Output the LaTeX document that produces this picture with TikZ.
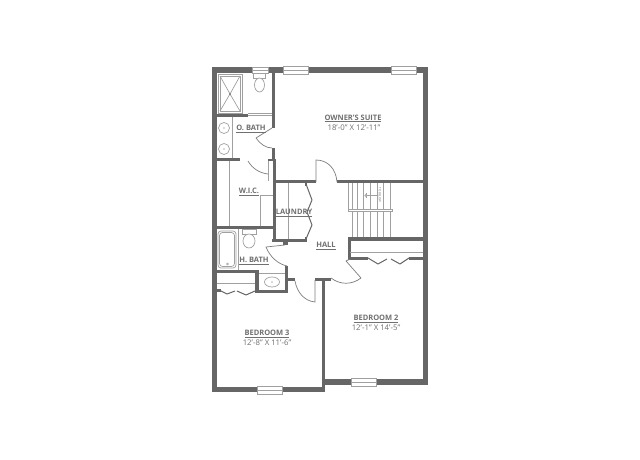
\documentclass[tikz,border=0pt]{standalone}
\usepackage{fontspec}
\setmainfont{Open Sans}
\definecolor{wallc}{HTML}{666666}
\definecolor{fixc}{HTML}{A0A0A0}
\definecolor{txtc}{HTML}{707070}
\tikzset{
  wall/.style={fill=wallc,draw=none},
  thin line/.style={draw=fixc,line width=0.7pt},
  doorline/.style={draw=wallc!85,line width=0.7pt},
  zig/.style={draw=wallc,line width=1pt,line join=round},
  window/.style={draw=fixc,fill=white,line width=0.6pt},
  roomname/.style={text=txtc,font=\fontsize{7.5}{8}\selectfont\bfseries,inner sep=0pt},
  roomdim/.style={text=txtc,font=\fontsize{7.8}{8}\selectfont,inner sep=0pt},
}
\begin{document}
\begin{tikzpicture}[x=1pt,y=-1pt]
\useasboundingbox (0,0) rectangle (640,460);
\fill[white] (0,0) rectangle (640,460);
% outer walls
\fill[wall] (212,67) rectangle (428,73);
\fill[wall] (212,67) rectangle (217,392);
\fill[wall] (423,67) rectangle (428,385);
\fill[wall] (322,379) rectangle (428,385);
\fill[wall] (212,387) rectangle (325,392);
\fill[wall] (322,280) rectangle (325,392);
% inner walls
\fill[wall] (272,73) rectangle (275,128);
\fill[wall] (272,148) rectangle (275,160);
\fill[wall] (217,114) rectangle (248,117);
\fill[wall] (217,158) rectangle (240,161);
\fill[wall] (268,159) rectangle (276,161);
\fill[wall] (273,160) rectangle (276,242);
\fill[wall] (273,180) rectangle (316,183);
\fill[wall] (337,180) rectangle (423,183);
\fill[wall] (272,239) rectangle (307,242);
\fill[wall] (283,242) rectangle (288,245);
\fill[wall] (305,237) rectangle (307,241);
\fill[wall] (305,183) rectangle (307,186);
\fill[wall] (217,226) rectangle (273,229);
\fill[wall] (217,270) rectangle (259,273);
\fill[wall] (255,270) rectangle (259,293);
\fill[wall] (255,290) rectangle (288,293);
\fill[wall] (285,266) rectangle (287.5,293);
\fill[wall] (287,278) rectangle (295,281);
\fill[wall] (315,278) rectangle (331,281);
\fill[wall] (348,237) rectangle (423,240.5);
\fill[wall] (348,237) rectangle (350.5,260);
\fill[wall] (348,257) rectangle (368,260);
\fill[wall] (409,257) rectangle (423,260);
\fill[wall] (217,289) rectangle (221,292);
% thin lines
\draw[thin line] (248,115.5) -- (272,115.5);
\draw[thin line] (248,113) -- (272,113);
\draw[thin line] (268.5,161) -- (268.5,181);
\draw[thin line] (229,161) -- (229,226);
\draw[thin line] (260,226) -- (260,195) -- (273,195);
\draw[thin line] (288,183) -- (288,239);
\draw[thin line] (238,229) -- (238,270);
\draw[thin line] (232,117) -- (232,158);
\draw[thin line] (217,283) -- (255,283);
\draw[thin line] (350,252) -- (423,252);
\draw[thin line] (259,273) -- (285,273);
% shower
\draw[thin line] (218,74) rectangle (242,113);
\draw[thin line] (220,76) rectangle (240,111);
\draw[thin line] (220,76) -- (230,94) -- (240,76);
\draw[thin line] (220,111) -- (230,94) -- (240,111);
\fill[wallc] (230,94) circle (0.9);
% owner's toilet
\draw[thin line] (253,73) rectangle (265,78);
\draw[thin line,fill=white] (259.5,85) ellipse (5 and 7);
% vanity sinks
\draw[thin line] (224,128) circle (5.5);
\fill[wallc] (224,128) circle (0.6);
\draw[thin line] (224,149) circle (5.5);
\fill[wallc] (224,149) circle (0.6);
% doors
\draw[doorline,line join=round] (272,128) -- (256,138) .. controls (260,144) and (266,148) .. (272,148);
\draw[doorline] (248,161) .. controls (252,168) and (259,173) .. (268,174);
\draw[doorline] (316,182) -- (316,160) .. controls (328,160) and (336,169) .. (337,182);
\draw[doorline,line join=round] (285,245) -- (266,247) .. controls (270,257) and (278,264) .. (287,266);
\draw[doorline] (295,281) .. controls (297,292) and (304,301) .. (315,302) -- (315,280);
\draw[doorline,line join=round] (350,259) -- (346,261) -- (361,278) .. controls (352,285) and (340,285) .. (331,278);
% h bath fixtures
\draw[thin line,rounded corners=3pt] (218,231) rectangle (236,268);
\draw[thin line,rounded corners=3pt] (219.5,232.5) rectangle (234.5,266.5);
\draw[thin line] (227.5,264) circle (1);
\draw[thin line] (242,229) rectangle (256,234);
\draw[thin line,fill=white] (249,241) ellipse (6 and 7);
\draw[thin line] (272,282) ellipse (7.5 and 5);
\fill[wallc] (272,282) circle (0.6);
% laundry bifold
\draw[zig] (306,184) -- (312,200) -- (307,212) -- (312,225) -- (306,239);
% closets
\draw[zig] (219,290) -- (227,294) -- (235,291);
\draw[zig] (237,291) -- (246,295) -- (255,291);
\draw[zig] (368,258) -- (378,264) -- (387,259);
\draw[zig] (391,259) -- (400,264) -- (409,258);
% stairs
\foreach \x in {352,357,363,370,377,383,390}{\draw[thin line] (\x,183) -- (\x,237);}
\draw[thin line] (348,183) -- (348,210);
\draw[thin line,fill=white] (348,209) rectangle (392,211.5);
\node[rotate=-90,text=txtc,font=\fontsize{3}{3}\selectfont,inner sep=0pt] (tobelow) at (380,195) {TO BELOW};
\draw[thin line] (366,195) -- (377,195);
\draw[thin line] (366,192.5) -- (366,198);
\draw[thin line,fill=white] (366,195.5) circle (1.2);
% windows
\foreach \a/\b in {283/308,391/416}{
  \draw[window] (\a,66.5) rectangle (\b,74);
  \draw[thin line] (\a,70.2) -- (\b,70.2);}
\draw[window] (252,67) rectangle (268,73);
\draw[thin line] (252,70) -- (268,70);
\draw[window] (351,378) rectangle (376,386);
\draw[thin line] (351,382) -- (376,382);
\draw[window] (257,386) rectangle (282,394);
\draw[thin line] (257,390) -- (282,390);
% labels
\node[roomname] (owner) at (353,118.5) {\underline{OWNER'S SUITE}};
\node[roomdim] (ownerd) at (354,128) {18'-0" X 12'-11"};
\node[roomname] (obath) at (251,129) {\underline{O. BATH}};
\node[roomname] (wic) at (249,192) {\underline{W.I.C.}};
\node[roomname] (laundry) at (294,213) {\underline{LAUNDRY}};
\node[roomname] (hall) at (326,246) {\underline{HALL}};
\node[roomname] (hbath) at (254,261) {\underline{H. BATH}};
\node[roomname] (bed3) at (267,334) {\underline{BEDROOM 3}};
\node[roomdim] (bed3d) at (267,343) {12'-8" X 11'-6"};
\node[roomname] (bed2) at (376,319) {\underline{BEDROOM 2}};
\node[roomdim] (bed2d) at (376,328) {12'-1" X 14'-5"};
\end{tikzpicture}
\end{document}
